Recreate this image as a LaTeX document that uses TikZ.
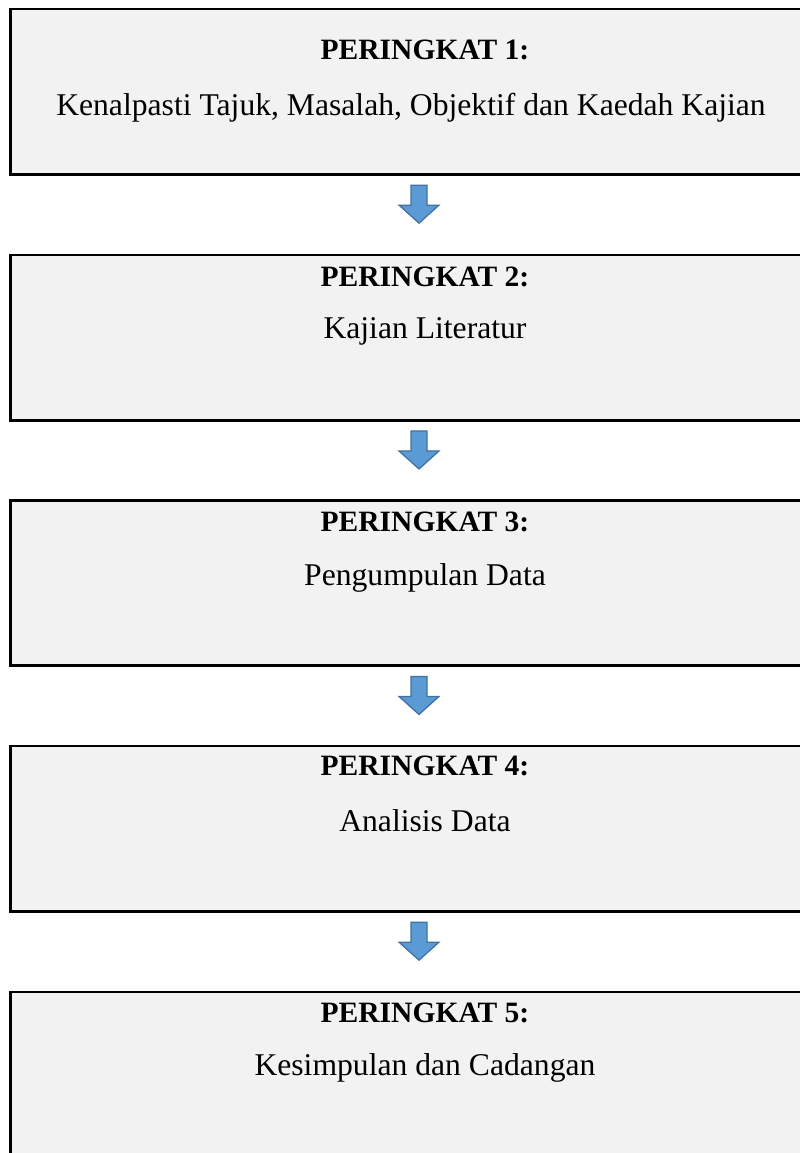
\documentclass[tikz,border=0pt]{standalone}
\usepackage{fontspec}
\setmainfont{Liberation Serif}
\usetikzlibrary{calc}

\definecolor{stagegray}{HTML}{F2F2F2}
\definecolor{arrowblue}{HTML}{5B9BD5}
\definecolor{arrowedge}{HTML}{41719C}

\tikzset{
  stage/.style={draw, fill=stagegray, line width=2.1pt, inner sep=0pt,
    minimum width=20.4cm, minimum height=4.125cm},
  stagetitle/.style={font=\fontsize{21}{25}\selectfont\bfseries, inner sep=0pt},
  stagetext/.style={font=\fontsize{22.5}{27}\selectfont, inner sep=0pt},
  pics/flowarrow/.style={code={
    \draw[draw=arrowedge, fill=arrowblue, line width=0.9pt]
      (-8,-20) -- (8,-20) -- (8,0) -- (20,0) -- (0,18) -- (-20,0)
      -- (-8,0) -- cycle;}}
}

\begin{document}
\begin{tikzpicture}[x=0.025cm, y=-0.025cm]
  \useasboundingbox (0,0) rectangle (800,1153);
  \clip (0,0) rectangle (800,1153);

  % the five stages
  \node[stage] (p1) at (419,91.5) {};
  \node[stage] (p2) at (419,337.5) {};
  \node[stage] (p3) at (419,583) {};
  \node[stage] (p4) at (419,828.5) {};
  \node[stage] (p5) at (419,1074.5) {};

  \node[stagetitle] (t1) at (425,50) {PERINGKAT 1:};
  \node[stagetext] (b1) at (411,108) {Kenalpasti Tajuk, Masalah, Objektif dan Kaedah Kajian};
  \node[stagetitle] (t2) at (425,277) {PERINGKAT 2:};
  \node[stagetext] (b2) at (425,331) {Kajian Literatur};
  \node[stagetitle] (t3) at (425,522) {PERINGKAT 3:};
  \node[stagetext] (b3) at (425,578) {Pengumpulan Data};
  \node[stagetitle] (t4) at (425,766) {PERINGKAT 4:};
  \node[stagetext] (b4) at (425,821) {Analisis Data};
  \node[stagetitle] (t5) at (425,1013) {PERINGKAT 5:};
  \node[stagetext] (b5) at (425,1068) {Kesimpulan dan Cadangan};

  % arrows between stages
  \pic (a1) at ($(p1.south)!0.38!(p2.north)$) {flowarrow};
  \pic (a2) at ($(p2.south)!0.38!(p3.north)$) {flowarrow};
  \pic (a3) at ($(p3.south)!0.38!(p4.north)$) {flowarrow};
  \pic (a4) at ($(p4.south)!0.38!(p5.north)$) {flowarrow};

\end{tikzpicture}
\end{document}
